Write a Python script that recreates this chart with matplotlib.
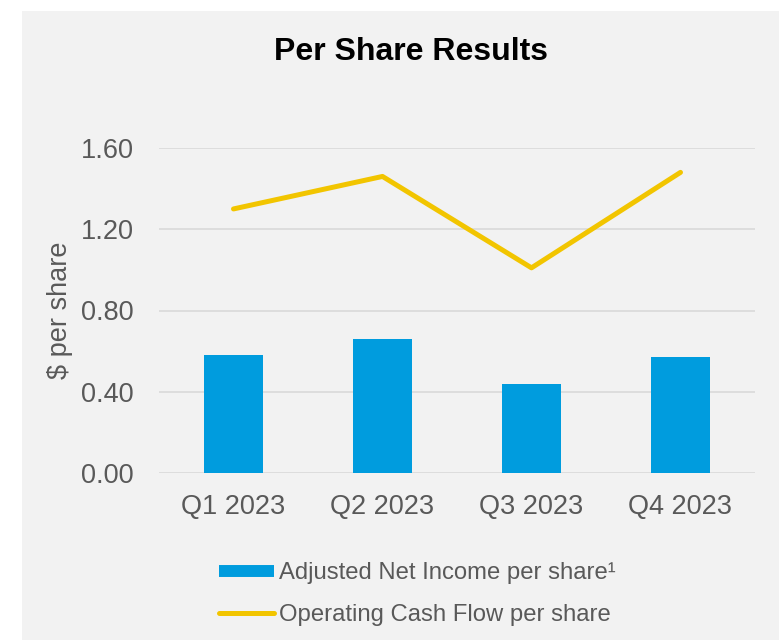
import matplotlib
matplotlib.use("Agg")
import matplotlib.pyplot as plt
from matplotlib.lines import Line2D
from matplotlib.patches import Rectangle

# data
quarters = ["Q1 2023", "Q2 2023", "Q3 2023", "Q4 2023"]
adj_net_income = [0.58, 0.66, 0.44, 0.57]
op_cash_flow = [1.30, 1.46, 1.01, 1.48]
y_ticks = [0.0, 0.4, 0.8, 1.2, 1.6]

BLUE = "#009CDE"
YELLOW = "#F2C500"
GREY_TXT = "#595959"

plt.rcParams["font.family"] = ["Liberation Sans", "DejaVu Sans"]

fig = plt.figure(figsize=(7.79, 6.4), dpi=100)
fig.patch.set_facecolor("white")
fig.patches.append(Rectangle((22 / 779, 0), 1, 1 - 11 / 640, transform=fig.transFigure,
                             facecolor="#F2F2F2", edgecolor="none", zorder=-1))

ax = fig.add_axes([159 / 779, 1 - 473 / 640, 596 / 779, 325 / 640])
ax.set_facecolor("none")

x = list(range(len(quarters)))
ax.bar(x, adj_net_income, width=0.4, color=BLUE, zorder=2)
ax.plot(x, op_cash_flow, color=YELLOW, lw=3.6, solid_capstyle="round", zorder=3)

ax.set_xlim(-0.5, len(quarters) - 0.5)
ax.set_ylim(0, 1.6)
ax.set_yticks(y_ticks)
ax.set_yticklabels([f"{v:.2f}" for v in y_ticks])
ax.set_xticks(x)
ax.set_xticklabels(quarters)
ax.tick_params(axis="both", length=0, labelsize=19.5, labelcolor=GREY_TXT)
ax.tick_params(axis="x", pad=15)
ax.tick_params(axis="y", pad=18)
ax.grid(axis="y", color="#D9D9D9", lw=1.2, zorder=1)
for s in ax.spines.values():
    s.set_visible(False)

ax.set_ylabel("$ per share", fontsize=19.5, color=GREY_TXT)
ax.yaxis.set_label_coords(-0.144, 0.5)

fig.text(0.528, 1 - 60 / 640, "Per Share Results", ha="center", va="baseline",
         fontsize=23, fontweight="bold", color="black")

handles = [
    Line2D([], [], color=BLUE, lw=8.6, solid_capstyle="butt"),
    Line2D([], [], color=YELLOW, lw=3.6, solid_capstyle="round"),
]
labels = ["Adjusted Net Income per share\u00b9", "Operating Cash Flow per share"]
fig.legend(handles, labels, loc="upper left", bbox_to_anchor=(219 / 779, 1 - 562 / 640),
           frameon=False, fontsize=17.2, labelcolor=GREY_TXT, handlelength=2.3,
           handletextpad=0.2, labelspacing=0.85, borderpad=0, borderaxespad=0)

fig.savefig("out.png", dpi=100, facecolor=fig.get_facecolor())
